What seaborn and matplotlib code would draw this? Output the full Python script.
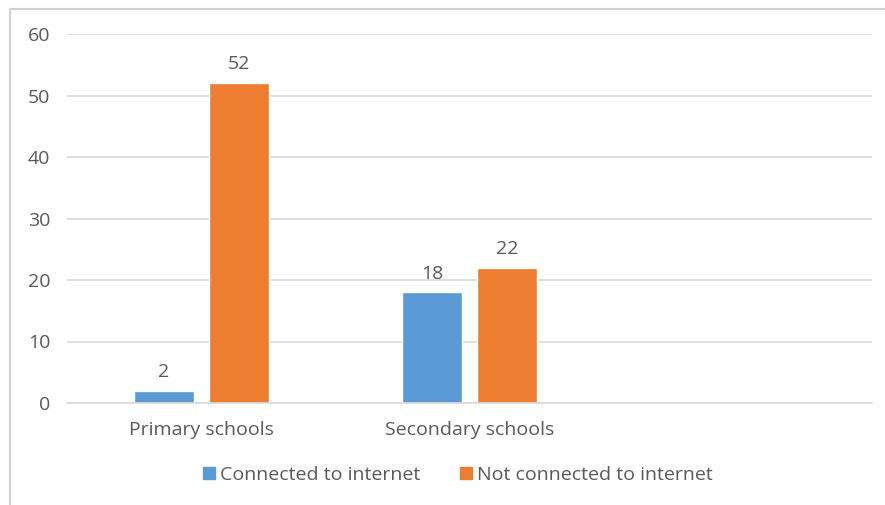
import matplotlib
matplotlib.use("Agg")
import matplotlib.pyplot as plt
import seaborn as sns
import pandas as pd
from matplotlib.lines import Line2D

categories = ["Primary schools", "Secondary schools"]
series_names = ["Connected to internet", "Not connected to internet"]
connected = [2, 18]
not_connected = [52, 22]
y_ticks = [0, 10, 20, 30, 40, 50, 60]

df = pd.DataFrame({
    "school": categories * 2,
    "status": [series_names[0]] * len(categories) + [series_names[1]] * len(categories),
    "count": connected + not_connected,
})

sns.set_theme(style="white")
plt.rcParams["font.family"] = ["Open Sans", "DejaVu Sans"]

text_color = "#595959"
grid_color = "#D9D9D9"
fs = 14
palette = {series_names[0]: "#5B9BD5", series_names[1]: "#ED7D31"}

fig = plt.figure(figsize=(8.85, 5.05), dpi=100)
ax = fig.add_axes([67 / 885, 102 / 505, 805 / 885, 369 / 505])

sns.barplot(data=df, x="school", y="count", hue="status", order=categories,
            hue_order=series_names, palette=palette, width=0.56, gap=0.2,
            saturation=1, ax=ax, legend=False)

# leave room for an empty third category slot, as in the original layout
ax.set_xlim(-0.5, 2.5)
ax.set_ylim(0, 60)
ax.set_yticks(y_ticks)
ax.yaxis.grid(True, color=grid_color, linewidth=1.2)
ax.set_axisbelow(True)
for s in ["top", "right", "left"]:
    ax.spines[s].set_visible(False)
ax.spines["bottom"].set_color(grid_color)
ax.spines["bottom"].set_linewidth(1.2)
ax.tick_params(axis="both", length=0, labelsize=fs, colors=text_color)
ax.tick_params(axis="y", pad=12)
ax.tick_params(axis="x", pad=13)
ax.set_xlabel("")
ax.set_ylabel("")

for container in ax.containers:
    ax.bar_label(container, fmt="%g", padding=7, fontsize=fs, color=text_color)

handles = [Line2D([], [], marker="s", linestyle="", markersize=9,
                  markerfacecolor=palette[n], markeredgecolor=palette[n])
           for n in series_names]
fig.legend(handles, series_names, loc="center", bbox_to_anchor=(456 / 885, 1 - 475 / 505),
           ncol=2, frameon=False, fontsize=fs, labelcolor=text_color,
           handletextpad=0.05, columnspacing=1.9, handlelength=1.0)

# light frame lines along the top and left of the chart area
fig.add_artist(Line2D([10 / 885, 10 / 885], [0, 1 - 9 / 505], transform=fig.transFigure,
                      color="#D0D0D0", linewidth=1.5))
fig.add_artist(Line2D([10 / 885, 1], [1 - 9 / 505, 1 - 9 / 505], transform=fig.transFigure,
                      color="#D0D0D0", linewidth=1.5))

fig.savefig("out.png", dpi=100, facecolor="white")
